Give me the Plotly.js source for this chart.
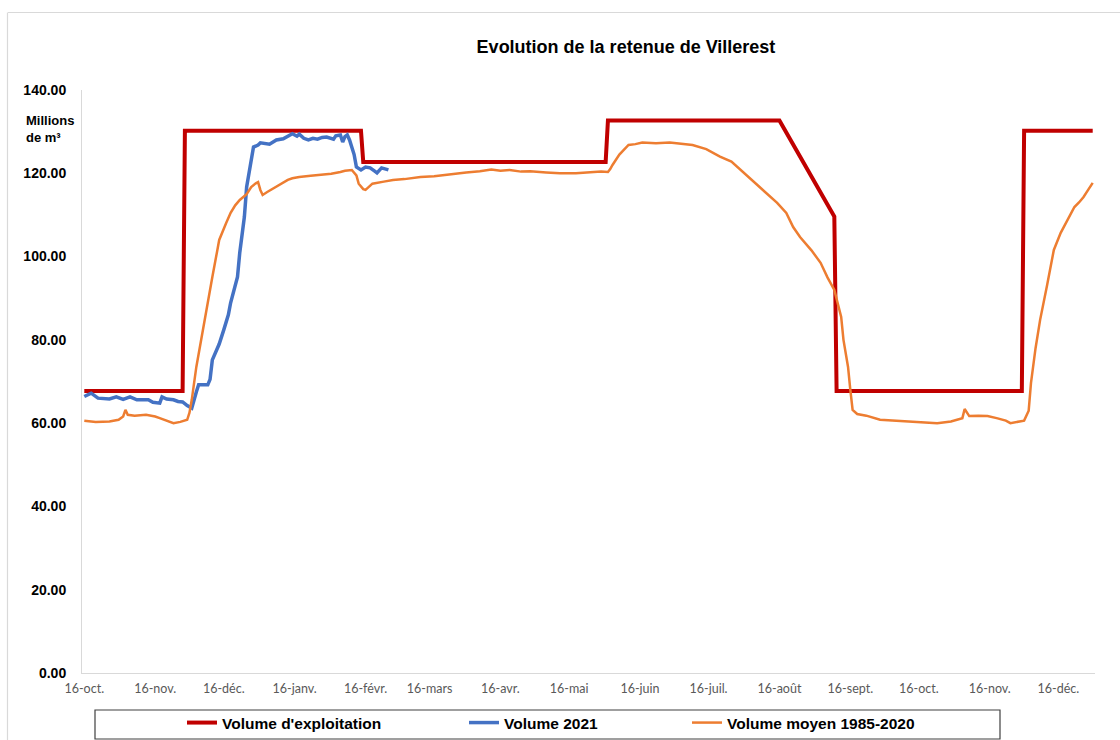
<!DOCTYPE html>
<html>
<head>
<meta charset="utf-8">
<script src="https://cdn.plot.ly/plotly-3.0.1.min.js"></script>
<style>html,body{margin:0;padding:0;background:#fff;}#chart{width:1120px;height:740px;}</style>
</head>
<body>
<div id="chart"></div>
<script>
// ---- Volume d'exploitation (consigne) ----
const exploitDates = ['2020-10-16','2020-11-28','2020-11-29','2021-02-14','2021-02-15','2021-06-01','2021-06-02','2021-08-16','2021-09-09','2021-09-10','2021-11-30','2021-12-01','2021-12-31'];
const exploitValues = [67.7,67.7,130.2,130.2,122.7,122.7,132.7,132.7,109.6,67.7,67.7,130.2,130.2];

// ---- Volume 2021 ----
const vol2021Dates = ['2020-10-16','2020-10-19','2020-10-22','2020-10-24','2020-10-27','2020-10-30','2020-11-02','2020-11-05','2020-11-08','2020-11-13','2020-11-15','2020-11-18','2020-11-19','2020-11-21','2020-11-24','2020-11-26','2020-11-28','2020-11-30','2020-12-02','2020-12-04','2020-12-05','2020-12-09','2020-12-10','2020-12-11','2020-12-14','2020-12-16','2020-12-18','2020-12-19','2020-12-21','2020-12-22','2020-12-23','2020-12-25','2020-12-26','2020-12-28','2020-12-29','2020-12-31','2021-01-01','2021-01-05','2021-01-08','2021-01-11','2021-01-13','2021-01-15','2021-01-17','2021-01-18','2021-01-20','2021-01-22','2021-01-24','2021-01-26','2021-01-28','2021-01-30','2021-02-02','2021-02-03','2021-02-05','2021-02-06','2021-02-07','2021-02-08','2021-02-09','2021-02-11','2021-02-12','2021-02-14','2021-02-16','2021-02-18','2021-02-20','2021-02-21','2021-02-23','2021-02-25','2021-02-26'];
const vol2021Values = [66.4,67.2,66.0,66.0,65.8,66.3,65.7,66.3,65.6,65.6,65.0,64.8,66.3,65.8,65.6,65.2,65.1,64.2,63.6,67.5,69.2,69.2,70.5,75.2,79.0,82.4,86.0,88.9,93.0,95.1,101.0,109.5,116.7,123.0,126.3,126.8,127.3,127.0,128.0,128.3,128.8,129.5,128.9,129.4,128.4,128.0,128.4,128.2,128.6,128.7,128.2,129.0,129.2,127.5,128.8,129.2,128.0,124.5,121.5,120.8,121.5,121.3,120.5,120.1,121.3,121.0,120.8];

// ---- Volume moyen 1985-2020 ----
const moyenDates = ['2020-10-16','2020-10-21','2020-10-27','2020-10-31','2020-11-02','2020-11-03','2020-11-04','2020-11-07','2020-11-12','2020-11-16','2020-11-18','2020-11-21','2020-11-24','2020-11-27','2020-11-30','2020-12-01','2020-12-02','2020-12-04','2020-12-07','2020-12-09','2020-12-11','2020-12-13','2020-12-14','2020-12-17','2020-12-19','2020-12-21','2020-12-23','2020-12-26','2020-12-28','2020-12-30','2020-12-31','2021-01-01','2021-01-02','2021-01-04','2021-01-07','2021-01-10','2021-01-13','2021-01-15','2021-01-18','2021-01-23','2021-01-27','2021-02-01','2021-02-05','2021-02-07','2021-02-10','2021-02-12','2021-02-13','2021-02-15','2021-02-16','2021-02-19','2021-02-24','2021-02-28','2021-03-05','2021-03-12','2021-03-18','2021-03-25','2021-04-01','2021-04-07','2021-04-12','2021-04-16','2021-04-20','2021-04-25','2021-04-29','2021-05-06','2021-05-12','2021-05-19','2021-05-25','2021-05-30','2021-06-02','2021-06-03','2021-06-04','2021-06-07','2021-06-11','2021-06-14','2021-06-17','2021-06-23','2021-06-29','2021-07-05','2021-07-09','2021-07-15','2021-07-21','2021-07-26','2021-07-30','2021-08-03','2021-08-08','2021-08-12','2021-08-15','2021-08-19','2021-08-22','2021-08-25','2021-08-30','2021-09-03','2021-09-06','2021-09-09','2021-09-10','2021-09-12','2021-09-13','2021-09-15','2021-09-16','2021-09-17','2021-09-19','2021-09-23','2021-09-29','2021-10-06','2021-10-12','2021-10-19','2021-10-24','2021-10-30','2021-11-02','2021-11-04','2021-11-05','2021-11-07','2021-11-11','2021-11-15','2021-11-19','2021-11-23','2021-11-25','2021-11-29','2021-12-01','2021-12-03','2021-12-04','2021-12-06','2021-12-08','2021-12-11','2021-12-14','2021-12-17','2021-12-20','2021-12-23','2021-12-25','2021-12-27','2021-12-29','2021-12-31'];
const moyenValues = [60.6,60.3,60.4,60.8,61.6,63.2,62.0,61.8,62.0,61.6,61.2,60.6,60.0,60.3,60.8,62.5,65.6,73.5,83.1,89.0,95.1,101.0,104.0,108.0,110.5,112.3,113.6,115.0,116.7,117.6,117.9,116.0,114.8,115.5,116.5,117.5,118.4,118.8,119.1,119.4,119.6,119.9,120.3,120.6,120.8,119.5,117.5,116.2,116.0,117.5,118.0,118.4,118.6,119.1,119.3,119.8,120.2,120.5,120.9,120.6,120.8,120.4,120.5,120.2,120.0,120.0,120.2,120.4,120.3,121.0,122.0,124.5,126.8,127.0,127.4,127.2,127.4,127.0,126.8,125.8,124.0,122.8,120.8,118.9,116.5,114.5,112.9,110.5,107.1,104.7,101.5,98.5,95.0,92.0,89.8,85.5,80.0,73.5,68.0,63.2,62.2,61.8,60.8,60.6,60.5,60.3,60.0,60.4,60.8,61.2,63.4,61.7,61.8,61.7,61.2,60.6,60.0,60.4,60.6,63.0,69.6,78.0,84.8,93.0,101.6,105.7,109.0,111.9,113.0,114.3,116.0,117.7];

// ---- Axis ticks ----
const xTickDates = ['2020-10-16','2020-11-16','2020-12-16','2021-01-16','2021-02-16','2021-03-16','2021-04-16','2021-05-16','2021-06-16','2021-07-16','2021-08-16','2021-09-16','2021-10-16','2021-11-16','2021-12-16'];
const xTickLabels = ['16-oct.','16-nov.','16-déc.','16-janv.','16-févr.','16-mars','16-avr.','16-mai','16-juin','16-juil.','16-août','16-sept.','16-oct.','16-nov.','16-déc.'];
const yTickValues = [0,20,40,60,80,100,120,140];

const seriesNames = ["Volume d'exploitation", 'Volume 2021', 'Volume moyen 1985-2020'];

const traces = [
  {x: exploitDates, y: exploitValues, name: seriesNames[0], type: 'scatter', mode: 'lines',
   line: {color: '#C00000', width: 4}, legendwidth: 237},
  {x: vol2021Dates, y: vol2021Values, name: seriesNames[1], type: 'scatter', mode: 'lines',
   line: {color: '#4472C4', width: 3.5}, legendwidth: 178},
  {x: moyenDates, y: moyenValues, name: seriesNames[2], type: 'scatter', mode: 'lines',
   line: {color: '#ED7D31', width: 2.5}, legendwidth: 200}
];

const W = 1013, H = 583, L = 82, T = 90;
const px = v => (v - L) / W;
const py = v => (T + H - v) / H;

const layout = {
  width: 1120, height: 740,
  margin: {l: L, r: 1120 - L - W, t: T, b: 740 - T - H, pad: 0, autoexpand: false},
  paper_bgcolor: '#ffffff', plot_bgcolor: '#ffffff',
  font: {family: 'Liberation Sans, Arial, sans-serif', color: '#000'},
  title: {text: '<b>Evolution de la retenue de Villerest</b>', font: {size: 18, color: '#000', family: 'Liberation Sans, Arial, sans-serif'},
          x: 626 / 1120, xanchor: 'center', xref: 'container', y: 1 - 47 / 740, yanchor: 'middle', yref: 'container'},
  xaxis: {type: 'date', range: ['2020-10-15', '2022-01-01'], tickmode: 'array', tickvals: xTickDates, ticktext: xTickLabels,
          showgrid: false, zeroline: false, showline: true, linecolor: '#d9d9d9', linewidth: 1, ticks: '',
          ticklabelstandoff: 4,
          tickfont: {size: 12.5, color: '#595959', family: 'Lato, Liberation Sans, sans-serif'}, fixedrange: true},
  yaxis: {range: [0, 140], tickmode: 'array', tickvals: yTickValues, tickformat: '.2f',
          showgrid: false, zeroline: false, showline: true, linecolor: '#d9d9d9', linewidth: 1, ticks: '',
          ticklabelstandoff: 12,
          tickfont: {size: 14, color: '#000', family: 'Liberation Sans, Arial, sans-serif', weight: 'bold'}, fixedrange: true},
  showlegend: true,
  legend: {orientation: 'h', x: px(182), xanchor: 'left', y: py(723), yanchor: 'middle',
           bgcolor: 'rgba(0,0,0,0)', borderwidth: 0, traceorder: 'normal',
           font: {size: 15.5, color: '#000', family: 'Liberation Sans, Arial, sans-serif', weight: 'bold'}},
  annotations: [
    {text: '<b>Millions<br>de m³</b>', xref: 'paper', yref: 'paper', x: px(24), y: py(129), xanchor: 'left', yanchor: 'middle',
     showarrow: false, align: 'left', font: {size: 13, color: '#000', family: 'Liberation Sans, Arial, sans-serif'}}
  ],
  shapes: [
    {type: 'rect', xref: 'paper', yref: 'paper', x0: px(95), x1: px(1000), y0: py(710), y1: py(739),
     line: {color: '#404040', width: 1.2}, fillcolor: 'rgba(0,0,0,0)', layer: 'below'},
    {type: 'line', xref: 'paper', yref: 'paper', x0: px(8), x1: px(1125), y0: py(12.5), y1: py(12.5),
     line: {color: '#d9d9d9', width: 1.2}},
    {type: 'line', xref: 'paper', yref: 'paper', x0: px(7.5), x1: px(7.5), y0: py(12.5), y1: py(745),
     line: {color: '#d9d9d9', width: 1.2}}
  ]
};

Plotly.newPlot('chart', traces, layout, {displayModeBar: false, staticPlot: true});
</script>
</body>
</html>
